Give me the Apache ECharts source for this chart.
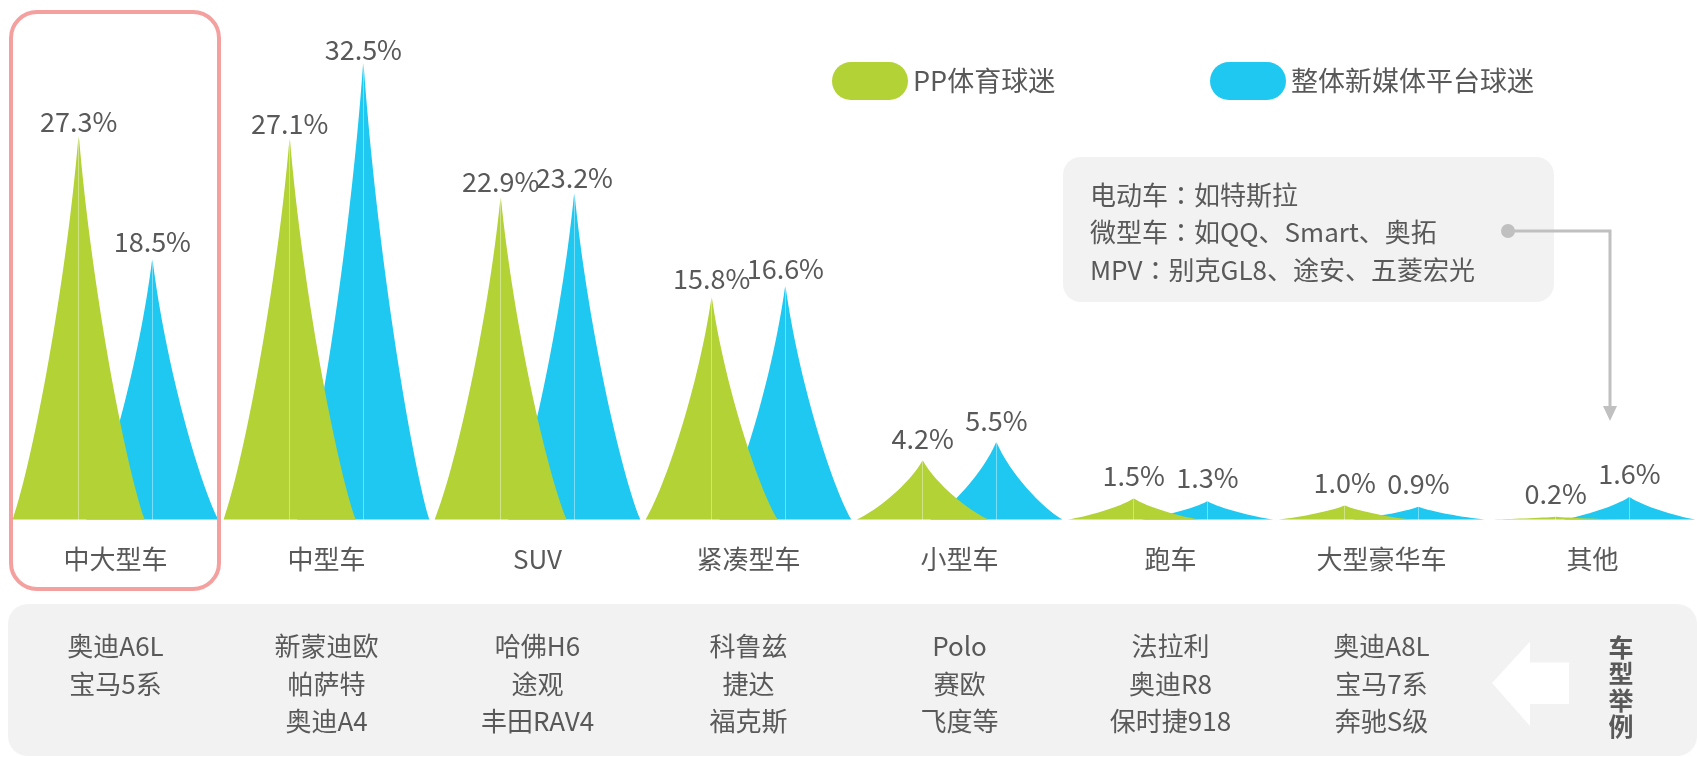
<!DOCTYPE html>
<html><head><meta charset="utf-8">
<script src="https://cdn.jsdelivr.net/npm/echarts@6/dist/echarts.min.js"></script>
<style>html,body{margin:0;padding:0;background:#fff}#c{width:1698px;height:757px}</style>
</head><body><div id="c"></div>
<script>
// ---- data ----
const categories = ['中大型车','中型车','SUV','紧凑型车','小型车','跑车','大型豪华车','其他'];
const ppFans = [27.3, 27.1, 22.9, 15.8, 4.2, 1.5, 1.0, 0.2];
const mediaFans = [18.5, 32.5, 23.2, 16.6, 5.5, 1.3, 0.9, 1.6];
const seriesNames = ['PP体育球迷', '整体新媒体平台球迷'];
const examples = [
  ['奥迪A6L','宝马5系'],
  ['新蒙迪欧','帕萨特','奥迪A4'],
  ['哈佛H6','途观','丰田RAV4'],
  ['科鲁兹','捷达','福克斯'],
  ['Polo','赛欧','飞度等'],
  ['法拉利','奥迪R8','保时捷918'],
  ['奥迪A8L','宝马7系','奔驰S级'],
  ['']
];
const noteLines = ['电动车：如特斯拉', '微型车：如QQ、Smart、奥拓', 'MPV：别克GL8、途安、五菱宏光'];
const sideTitle = '车型举例';

// ---- style ----
const GREEN = '#b2d235', BLUE = '#1fc8f0', TXT = '#595959';
const FONT = '"Noto Sans CJK SC", "Noto Sans", sans-serif';
const FONT_TC = '"Noto Sans CJK TC", "Noto Sans CJK SC", sans-serif';
const spike = 'path://M0,10C1.5,8.5 4,4 4.985,0L4.985,10Z M5.015,0C6,4 8.5,8.5 10,10L5.015,10Z';
const pill = 'path://M19,0L57,0A19,19,0,0,1,57,38L19,38A19,19,0,0,1,19,0Z';

function withLabels(vals) {
  return vals.map(v => ({ value: v, label: { distance: Math.max(0, 10 - 0.33 * v) } }));
}
const valueLabel = {
  show: true, position: 'top', color: TXT, fontSize: 27, fontFamily: FONT,
  formatter: p => p.value.toFixed(1) + '%'
};
const noteText = noteLines.map(l => l.replace('：', '{c|：}')).join('\n');

const chart = echarts.init(document.getElementById('c'), null, { renderer: 'canvas' });
chart.setOption({
  animation: false,
  backgroundColor: '#fff',
  textStyle: { fontFamily: FONT },
  grid: { left: 10, width: 1697, top: 27.75, height: 491.75 },
  legend: [
    { data: [seriesNames[0]], left: 827, top: 57, itemWidth: 76, itemHeight: 38, icon: pill, selectedMode: false,
      textStyle: { fontSize: 27, color: TXT, fontFamily: FONT } },
    { data: [seriesNames[1]], left: 1205, top: 57, itemWidth: 76, itemHeight: 38, icon: pill, selectedMode: false,
      textStyle: { fontSize: 27, color: TXT, fontFamily: FONT } }
  ],
  xAxis: [
    { type: 'category', data: categories, position: 'bottom', z: 10,
      axisLine: { show: false }, axisTick: { show: false }, splitLine: { show: false },
      axisLabel: { interval: 0, margin: 27, fontSize: 26, color: TXT, fontFamily: FONT } },
    { type: 'category', data: examples.map(a => a.join('\n')), position: 'bottom', z: 10,
      axisLine: { show: false }, axisTick: { show: false }, splitLine: { show: false },
      axisLabel: { interval: 0, margin: 108, fontSize: 26, lineHeight: 37.5, color: TXT, fontFamily: FONT, verticalAlign: 'top' } }
  ],
  yAxis: { type: 'value', min: 0, max: 35, show: false, splitLine: { show: false } },
  series: [
    { name: seriesNames[0], type: 'pictorialBar', symbol: spike, barWidth: 132, barGap: '-44.2%', z: 3,
      itemStyle: { color: GREEN }, label: valueLabel, data: withLabels(ppFans) },
    { name: seriesNames[1], type: 'pictorialBar', symbol: spike, barWidth: 132, barGap: '-44.2%', z: 2,
      itemStyle: { color: BLUE }, label: valueLabel, data: withLabels(mediaFans) }
  ],
  graphic: [
    { type: 'rect', z: -5, shape: { x: 8, y: 604, width: 1689, height: 152, r: 20 }, style: { fill: '#f2f2f2' } },
    { type: 'polygon', z: 1, shape: { points: [[1492,683],[1530,641.5],[1530,662.5],[1569,662.5],[1569,704],[1530,704],[1530,726]] },
      style: { fill: '#ffffff' } },
    { type: 'text', z: 1, x: 1621, y: 634, style: { text: sideTitle.split('').join('\n'), fontSize: 25, fontWeight: 'bold',
      lineHeight: 26.5, fill: TXT, align: 'center', verticalAlign: 'top', fontFamily: FONT } },
    { type: 'rect', z: 20, shape: { x: 11, y: 12, width: 208, height: 577, r: 26 },
      style: { fill: 'none', stroke: '#f4a09f', lineWidth: 4 } },
    { type: 'rect', z: 1, shape: { x: 1063, y: 157, width: 491, height: 145, r: 18 }, style: { fill: '#f2f2f2' } },
    { type: 'text', z: 2, x: 1090, y: 176, style: { text: noteText, fontSize: 26, lineHeight: 37.5,
      fill: TXT, align: 'left', verticalAlign: 'top', fontFamily: FONT,
      rich: { c: { fontFamily: FONT_TC, fontSize: 26, lineHeight: 37.5, fill: TXT } } } },
    { type: 'polyline', z: 2, shape: { points: [[1508,231],[1610,231],[1610,410]] },
      style: { stroke: '#c0c0c0', lineWidth: 3, fill: 'none' } },
    { type: 'circle', z: 3, shape: { cx: 1508, cy: 231, r: 7 }, style: { fill: '#c0c0c0' } },
    { type: 'polygon', z: 3, shape: { points: [[1603,406],[1617,406],[1610,421]] }, style: { fill: '#c0c0c0' } }
  ]
});
</script>
</body></html>
